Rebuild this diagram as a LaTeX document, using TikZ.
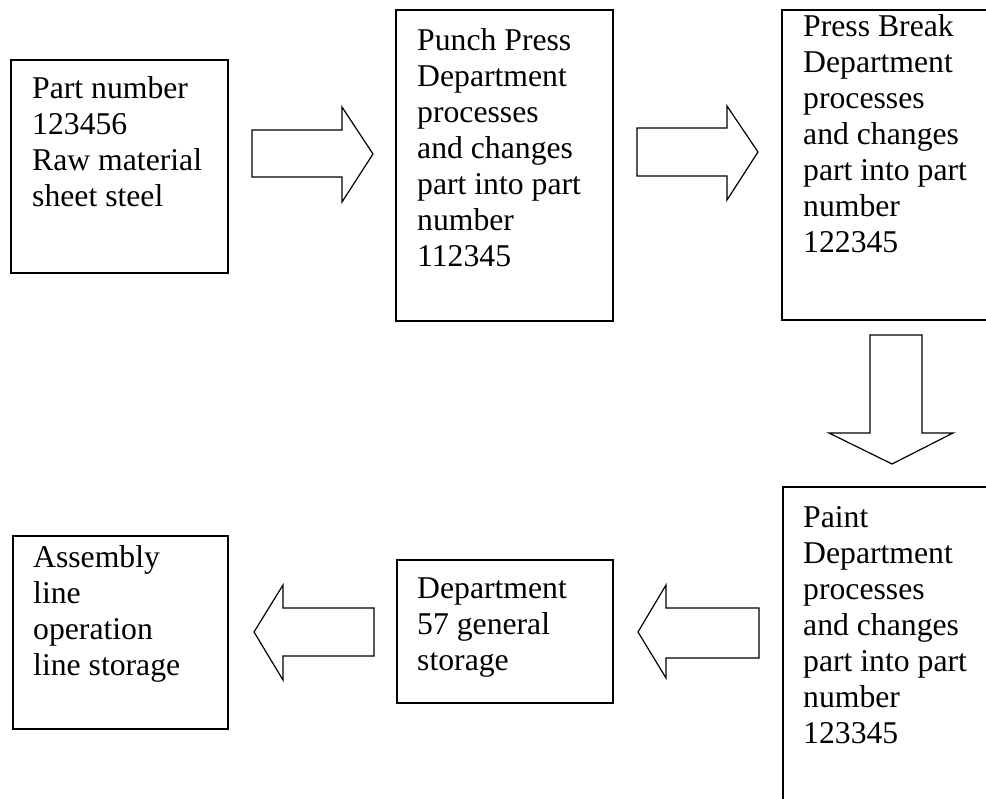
\documentclass[tikz,border=0pt]{standalone}
\usepackage{fontspec}
\setmainfont{Liberation Serif}
\begin{document}
\begin{tikzpicture}[x=1pt,y=-1pt,
  stagebox/.style={draw=black,line width=1.5pt,fill=none},
  blockarrow/.style={draw=black,line width=1.2pt,fill=white,line join=miter},
  label/.style={anchor=north west,inner sep=0pt,align=left,
    font=\fontsize{31.7}{36}\selectfont}]
\clip (0,0) rectangle (986,799);
\fill[white] (0,0) rectangle (986,799);

% process stage boxes
\draw[stagebox] (11,60) rectangle (228,273);
\draw[stagebox] (396,10) rectangle (613,321);
\draw[stagebox] (992,10) -- (782,10) -- (782,320) -- (992,320);
\draw[stagebox] (992,487) -- (783,487) -- (783,805);
\draw[stagebox] (397,560) rectangle (613,703);
\draw[stagebox] (13,536) rectangle (228,729);

% stage texts (first baseline minus strut height)
\node[label] (partin) at (32,98.5-25.2) {\strut Part number\\123456\\Raw material\\sheet steel};
\node[label] (punch) at (417,50-25.2) {\strut Punch Press\\Department\\processes\\and changes\\part into part\\number\\112345};
\node[label] (brake) at (803,36-25.2) {\strut Press Break\\Department\\processes\\and changes\\part into part\\number\\122345};
\node[label] (paint) at (803,527-25.2) {\strut Paint\\Department\\processes\\and changes\\part into part\\number\\123345};
\node[label] (store) at (417,598-25.2) {\strut Department\\57 general\\storage};
\node[label] (assembly) at (33,567-25.2) {\strut Assembly\\line\\operation\\line storage};

% block arrows
\draw[blockarrow] (252,130) -- (342,130) -- (342,107) -- (373,154) -- (342,202) -- (342,177) -- (252,177) -- cycle;
\draw[blockarrow] (637,128) -- (727,128) -- (727,106) -- (758,152) -- (727,200) -- (727,176) -- (637,176) -- cycle;
\draw[blockarrow] (870,335) -- (922,335) -- (922,433) -- (953,433) -- (892,464) -- (829,433) -- (870,433) -- cycle;
\draw[blockarrow] (759,608) -- (666,608) -- (666,585) -- (638,632) -- (666,678) -- (666,658) -- (759,658) -- cycle;
\draw[blockarrow] (374,608) -- (283,608) -- (283,585) -- (254,632) -- (283,680) -- (283,656) -- (374,656) -- cycle;
\end{tikzpicture}
\end{document}
